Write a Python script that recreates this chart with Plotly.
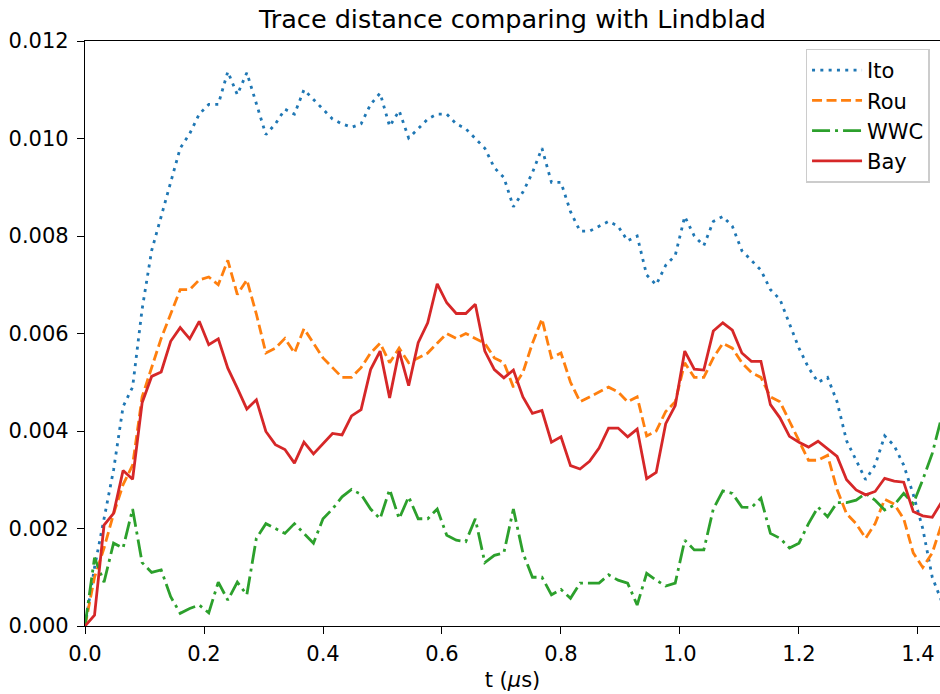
import numpy as np
import plotly.graph_objects as go

# time grid (µs)
t = [round(0.016 * i, 3) for i in range(91)]

ito = [0.0, 0.0012, 0.0022, 0.0032, 0.0045, 0.0049, 0.0065, 0.0077, 0.0084, 0.0091,
       0.0098, 0.0101, 0.0105, 0.0107, 0.0107, 0.01137, 0.0109, 0.01135, 0.0107, 0.01008,
       0.0103, 0.0106, 0.0105, 0.0110, 0.0108, 0.0106, 0.0104, 0.0103, 0.01023, 0.0103,
       0.0107, 0.01093, 0.01025, 0.01057, 0.01001, 0.0102, 0.0104, 0.0105, 0.0105, 0.0103,
       0.0102, 0.0100, 0.0098, 0.0094, 0.0092, 0.0086, 0.0089, 0.0093, 0.0098, 0.0091,
       0.0091, 0.0085, 0.0081, 0.0081, 0.0082, 0.0083, 0.0082, 0.0079, 0.0080, 0.0072,
       0.0070, 0.0074, 0.0076, 0.0084, 0.0080, 0.0078, 0.0083, 0.0084, 0.0082, 0.0077,
       0.0075, 0.0073, 0.0069, 0.0067, 0.0062, 0.0057, 0.0053, 0.0050, 0.0051, 0.0046,
       0.0038, 0.0034, 0.0030, 0.0033, 0.0039, 0.0037, 0.0033, 0.0027, 0.0020, 0.0010,
       0.0005]

rou = [0.0, 0.0010, 0.0016, 0.0023, 0.0029, 0.0033, 0.0047, 0.0053, 0.0059, 0.0064,
       0.0069, 0.0069, 0.0071, 0.00716, 0.0070, 0.0075, 0.0068, 0.0071, 0.0064, 0.0056,
       0.0057, 0.0059, 0.0056, 0.0061, 0.0058, 0.0055, 0.0053, 0.0051, 0.0051, 0.0053,
       0.0056, 0.0058, 0.0054, 0.0057, 0.0054, 0.0055, 0.0056, 0.0058, 0.0060, 0.0059,
       0.0060, 0.0059, 0.0058, 0.0055, 0.0054, 0.0049, 0.0052, 0.0058, 0.0063, 0.0055,
       0.0056, 0.0050, 0.0046, 0.0047, 0.0048, 0.0049, 0.0048, 0.0046, 0.0047, 0.0039,
       0.0040, 0.0044, 0.0046, 0.0054, 0.0051, 0.0051, 0.0055, 0.0058, 0.0057, 0.0054,
       0.0052, 0.0051, 0.0047, 0.0046, 0.0042, 0.0038, 0.0034, 0.0034, 0.0035, 0.0028,
       0.0023, 0.0021, 0.0018, 0.0021, 0.0026, 0.0025, 0.0022, 0.0015, 0.0012, 0.0015,
       0.0021]

wwc = [0.0, 0.0014, 0.0009, 0.0017, 0.0016, 0.0024, 0.0013, 0.0011, 0.00115, 0.0006,
       0.00026, 0.00036, 0.00043, 0.00027, 0.0009, 0.00053, 0.0009, 0.00064, 0.0018, 0.0021,
       0.0020, 0.0019, 0.0021, 0.0019, 0.0017, 0.0022, 0.0024, 0.00265, 0.0028, 0.0027,
       0.0024, 0.0022, 0.0028, 0.0022, 0.00265, 0.0022, 0.0022, 0.0024, 0.00186, 0.00176,
       0.00173, 0.0022, 0.0013, 0.00145, 0.0015, 0.0024, 0.0015, 0.0010, 0.0010, 0.00064,
       0.00075, 0.00057, 0.00088, 0.00088, 0.00088, 0.00105, 0.00094, 0.00088, 0.00043, 0.00108,
       0.00094, 0.00082, 0.00088, 0.00176, 0.00156, 0.00156, 0.0024, 0.00277, 0.00272, 0.00244,
       0.00243, 0.00262, 0.0019, 0.0018, 0.0016, 0.0017, 0.0021, 0.00244, 0.00224, 0.00253,
       0.00253, 0.00258, 0.00272, 0.00258, 0.00238, 0.00248, 0.00272, 0.00251, 0.0030, 0.00354,
       0.0043]

bay = [0.0, 0.00022, 0.00207, 0.00231, 0.00319, 0.00301, 0.00458, 0.00512, 0.00521, 0.00584,
       0.00612, 0.00589, 0.00625, 0.00577, 0.00589, 0.00529, 0.00488, 0.00445, 0.00464, 0.00399,
       0.00372, 0.00362, 0.00334, 0.00377, 0.00353, 0.00374, 0.00395, 0.00392, 0.00431, 0.00444,
       0.00526, 0.00564, 0.00468, 0.00564, 0.00493, 0.00581, 0.00622, 0.00702, 0.00663, 0.00641,
       0.00641, 0.00660, 0.00564, 0.00526, 0.00509, 0.00525, 0.00470, 0.00436, 0.00442, 0.00377,
       0.00388, 0.00329, 0.00322, 0.00338, 0.00365, 0.00406, 0.00406, 0.00388, 0.00404, 0.00302,
       0.00315, 0.00415, 0.00452, 0.00564, 0.00527, 0.00525, 0.00605, 0.00622, 0.00607, 0.00560,
       0.00543, 0.00543, 0.00454, 0.00427, 0.00389, 0.00377, 0.00367, 0.00379, 0.00363, 0.00348,
       0.00300, 0.00279, 0.00269, 0.00276, 0.00303, 0.00297, 0.00295, 0.00235, 0.00226, 0.00223,
       0.00255]

names = ["Ito", "Rou", "WWC", "Bay"]
series = [ito, rou, wwc, bay]
colors = ["#1f77b4", "#ff7f0e", "#2ca02c", "#d62728"]
dashes = ["3px,5.3px", "10px,4.5px", "18px,5px,3px,5px", "solid"]

FONT = "DejaVu Sans"

fig = go.Figure()
for n, s, c, d in zip(names, series, colors, dashes):
    fig.add_trace(go.Scatter(x=t, y=s, mode="lines", name=n, legendgroup=n,
                             line=dict(color=c, width=2.8, dash=d)))

fig.update_layout(
    width=940, height=694,
    margin=dict(l=85, r=0, t=41, b=68),
    paper_bgcolor="white", plot_bgcolor="white",
    font=dict(family=FONT, size=21, color="black"),
    title=dict(text="Trace distance comparing with Lindblad", x=0.5, xref="paper",
               xanchor="center", y=1 - 19 / 694, yref="container", yanchor="middle",
               font=dict(family=FONT, size=25.5, color="black")),
    showlegend=True,
    legend=dict(x=0.988, y=0.987, xanchor="right", yanchor="top",
                bgcolor="rgba(255,255,255,0.8)", bordercolor="#cccccc", borderwidth=1.3,
                font=dict(family=FONT, size=21, color="black"),
                tracegroupgap=0, itemwidth=50),
)
fig.update_xaxes(range=[0, 1.437], tickmode="array",
                 tickvals=[0, 0.2, 0.4, 0.6, 0.8, 1.0, 1.2, 1.4],
                 tickformat=".1f", ticks="outside", ticklen=7, tickwidth=1.3,
                 tickcolor="black", showline=True, linecolor="black", linewidth=1.3,
                 mirror=True, showgrid=False, zeroline=False, ticklabelstandoff=2,
                 title=dict(text="t (<i>μ</i>s)", standoff=6,
                            font=dict(family=FONT, size=21)))
fig.update_yaxes(range=[0, 0.012], tickmode="array",
                 tickvals=[0, 0.002, 0.004, 0.006, 0.008, 0.010, 0.012],
                 tickformat=".3f", ticks="outside", ticklen=7, tickwidth=1.3,
                 tickcolor="black", showline=True, linecolor="black", linewidth=1.3,
                 showgrid=False, zeroline=False, ticklabelstandoff=4)

fig.write_html("out.html")
